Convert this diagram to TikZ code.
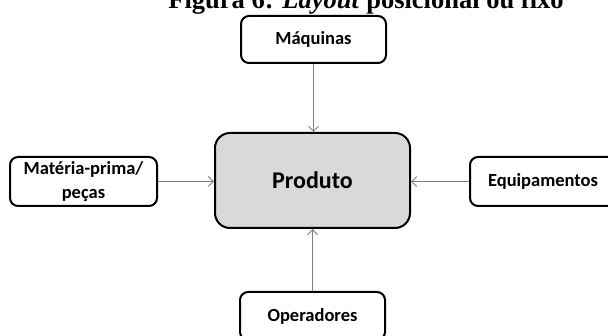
\documentclass[tikz,border=0pt]{standalone}
\usepackage{fontspec}
\setmainfont{Liberation Serif}
\newfontfamily\boxfont{Carlito}
\usetikzlibrary{arrows.meta}
\tikzset{
  box/.style={draw=black, line width=2pt, rounded corners=8pt, fill=white,
    font=\boxfont\bfseries\fontsize{18.5}{24}\selectfont, align=center,
    inner sep=0pt},
  prodbox/.style={box, rounded corners=15pt, fill=prodgray,
    font=\boxfont\bfseries\fontsize{24}{28}\selectfont},
  link/.style={draw=linegray, line width=0.9pt,
    -{Straight Barb[length=5pt,width=10pt,line width=0.9pt]}},
  titletext/.style={font=\bfseries\fontsize{26.5}{30}\selectfont, inner sep=0pt, anchor=base}
}
\definecolor{prodgray}{HTML}{D9D9D9}
\definecolor{linegray}{HTML}{7F7F7F}
\begin{document}
\begin{tikzpicture}[x=1pt,y=-1pt]
\useasboundingbox (0,0) rectangle (608,336);
\clip (0,0) rectangle (608,336);
\node[titletext] (title) at (366,9) {Figura 6: \textit{Layout} posicional ou fixo};
\node[box, minimum width=145pt, minimum height=47pt] (maq) at (313.5,39.5) {Máquinas};
\node[prodbox, minimum width=195pt, minimum height=95pt] (prod) at (312.5,180.5) {Produto};
\node[box, minimum width=147pt, minimum height=49pt] (mat) at (83.5,181.5) {Matéria-prima/\\peças};
\node[box, minimum width=146pt, minimum height=49pt] (equ) at (543,181.5) {Equipamentos};
\node[box, minimum width=145pt, minimum height=48pt] (ope) at (312.5,316) {Operadores};
\draw[link] (maq.south) -- (maq.south |- prod.north);
\draw[link] (mat.east) -- (mat.east -| prod.west);
\draw[link] (equ.west) -- (equ.west -| prod.east);
\draw[link] (ope.north) -- (ope.north |- prod.south);
\end{tikzpicture}
\end{document}
